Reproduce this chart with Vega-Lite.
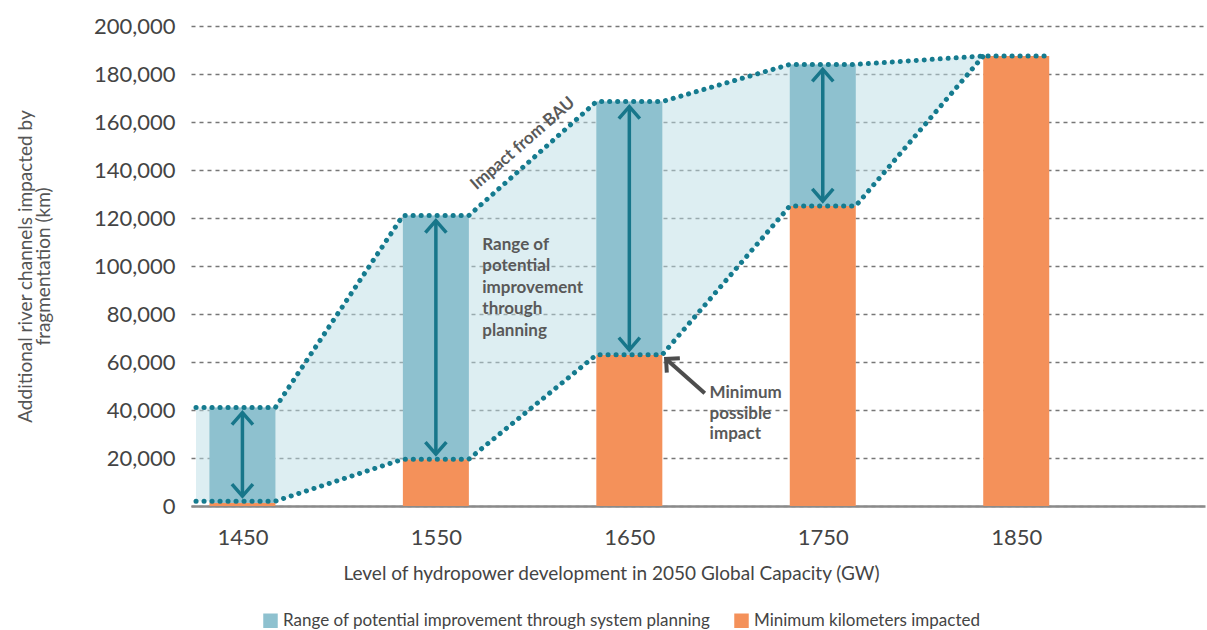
{
  "$schema": "https://vega.github.io/schema/vega-lite/v6.json",
  "width": 1014,
  "height": 480,
  "autosize": {"type": "none"},
  "padding": {"left": 191, "top": 26, "right": 2, "bottom": 124},
  "background": "white",
  "config": {
    "view": {"stroke": null},
    "font": "Lato",
    "axis": {"labelFont": "Lato", "titleFont": "Lato"},
    "legend": {"labelFont": "Lato"}
  },
  "datasets": {
    "bars": [
      {"gw": 1450, "series": "Minimum kilometers impacted", "lo": 0, "hi": 1200},
      {"gw": 1450, "series": "Range of potential improvement through system planning", "lo": 1200, "hi": 41000},
      {"gw": 1550, "series": "Minimum kilometers impacted", "lo": 0, "hi": 19500},
      {"gw": 1550, "series": "Range of potential improvement through system planning", "lo": 19500, "hi": 121000},
      {"gw": 1650, "series": "Minimum kilometers impacted", "lo": 0, "hi": 63000},
      {"gw": 1650, "series": "Range of potential improvement through system planning", "lo": 63000, "hi": 168500},
      {"gw": 1750, "series": "Minimum kilometers impacted", "lo": 0, "hi": 125000},
      {"gw": 1750, "series": "Range of potential improvement through system planning", "lo": 125000, "hi": 184000},
      {"gw": 1850, "series": "Minimum kilometers impacted", "lo": 0, "hi": 187500}
    ],
    "envelope": [
      {"gw": 1426, "upper": 41000, "lower": 2000},
      {"gw": 1467, "upper": 41000, "lower": 2000},
      {"gw": 1533, "upper": 121000, "lower": 19500},
      {"gw": 1567, "upper": 121000, "lower": 19500},
      {"gw": 1633, "upper": 168500, "lower": 63000},
      {"gw": 1667, "upper": 168500, "lower": 63000},
      {"gw": 1733, "upper": 184000, "lower": 125000},
      {"gw": 1767, "upper": 184000, "lower": 125000},
      {"gw": 1833, "upper": 187500, "lower": 187500},
      {"gw": 1867, "upper": 187500, "lower": null}
    ],
    "arrows": [
      {"gw": 1450, "lo": 2000, "hi": 41000},
      {"gw": 1550, "lo": 19500, "hi": 121000},
      {"gw": 1650, "lo": 63000, "hi": 168500},
      {"gw": 1750, "lo": 125000, "hi": 184000}
    ],
    "pointer": [
      {"gw_from": 1689, "km_from": 47000, "gw_to": 1669, "km_to": 61300}
    ]
  },
  "layer": [
    {
      "data": {"name": "envelope"},
      "transform": [{"filter": "isValid(datum.lower)"}],
      "mark": {"type": "area", "color": "#bcdde6", "fillOpacity": 0.5},
      "encoding": {
        "x": {
          "field": "gw", "type": "quantitative",
          "scale": {"domain": [1426, 1945], "nice": false, "zero": false},
          "axis": {
            "values": [1450, 1550, 1650, 1750, 1850],
            "format": "d",
            "title": "Level of hydropower development in 2050 Global Capacity (GW)",
            "grid": false, "ticks": false,
            "domainColor": "#8a8a8a", "domainWidth": 2.5,
            "labelFontSize": 22, "labelColor": "#444", "labelPadding": 21,
            "titleFontSize": 19, "titleColor": "#444", "titleFontWeight": "normal",
            "titlePadding": 16, "titleX": 420, "titleAlign": "center"
          }
        },
        "y": {
          "field": "upper", "type": "quantitative",
          "scale": {"domain": [0, 200000], "nice": false},
          "axis": {
            "values": [0, 20000, 40000, 60000, 80000, 100000, 120000, 140000, 160000, 180000, 200000],
            "format": ",.0f",
            "title": ["Additional river channels impacted by", "fragmentation (km)"],
            "grid": true, "gridDash": [4, 4], "gridColor": "#777", "gridWidth": 1.5,
            "domain": false, "ticks": false,
            "labelFontSize": 22, "labelColor": "#444", "labelPadding": 16,
            "titleFontSize": 19, "titleColor": "#555", "titleFontWeight": "normal",
            "titlePadding": 40, "titleLineHeight": 18
          }
        },
        "y2": {"field": "lower"}
      }
    },
    {
      "data": {"name": "bars"},
      "mark": {"type": "bar", "width": 66},
      "encoding": {
        "x": {"field": "gw", "type": "quantitative"},
        "y": {"field": "hi", "type": "quantitative"},
        "y2": {"field": "lo"},
        "color": {
          "field": "series", "type": "nominal",
          "scale": {
            "domain": ["Range of potential improvement through system planning", "Minimum kilometers impacted"],
            "range": ["#8ec1cf", "#f4915a"]
          },
          "legend": {
            "orient": "none", "legendX": 71, "legendY": 586,
            "direction": "horizontal", "title": null,
            "symbolType": "square", "symbolSize": 210, "symbolStrokeWidth": 0,
            "labelFontSize": 17, "labelColor": "#444", "columnPadding": 22, "labelLimit": 600
          }
        }
      }
    },
    {
      "data": {"name": "envelope"},
      "mark": {"type": "line", "color": "#157b8f", "strokeWidth": 5, "strokeCap": "round", "strokeDash": [0.1, 7.9]},
      "encoding": {
        "x": {"field": "gw", "type": "quantitative"},
        "y": {"field": "upper", "type": "quantitative"}
      }
    },
    {
      "data": {"name": "envelope"},
      "transform": [{"filter": "isValid(datum.lower)"}],
      "mark": {"type": "line", "color": "#157b8f", "strokeWidth": 5, "strokeCap": "round", "strokeDash": [0.1, 7.9]},
      "encoding": {
        "x": {"field": "gw", "type": "quantitative"},
        "y": {"field": "lower", "type": "quantitative"}
      }
    },
    {
      "data": {"name": "arrows"},
      "mark": {"type": "rule", "color": "#17768a", "strokeWidth": 3.5, "yOffset": -5, "y2Offset": 5},
      "encoding": {
        "x": {"field": "gw", "type": "quantitative"},
        "y": {"field": "lo", "type": "quantitative"},
        "y2": {"field": "hi"}
      }
    },
    {
      "data": {"name": "arrows"},
      "mark": {"type": "point", "shape": "M-1,1.15L0,0L1,1.15", "filled": false, "stroke": "#17768a", "strokeWidth": 3.5, "size": 441, "opacity": 1, "yOffset": 5},
      "encoding": {
        "x": {"field": "gw", "type": "quantitative"},
        "y": {"field": "hi", "type": "quantitative"}
      }
    },
    {
      "data": {"name": "arrows"},
      "mark": {"type": "point", "shape": "M-1,-1.15L0,0L1,-1.15", "filled": false, "stroke": "#17768a", "strokeWidth": 3.5, "size": 441, "opacity": 1, "yOffset": -5},
      "encoding": {
        "x": {"field": "gw", "type": "quantitative"},
        "y": {"field": "lo", "type": "quantitative"}
      }
    },
    {
      "data": {"name": "pointer"},
      "mark": {"type": "rule", "color": "#4d4d4d", "strokeWidth": 4},
      "encoding": {
        "x": {"field": "gw_from", "type": "quantitative"},
        "y": {"field": "km_from", "type": "quantitative"},
        "x2": {"field": "gw_to"},
        "y2": {"field": "km_to"}
      }
    },
    {
      "data": {"name": "pointer"},
      "mark": {"type": "point", "shape": "M-1,1L0,0L1,1", "filled": false, "stroke": "#4d4d4d", "strokeWidth": 4, "size": 380, "opacity": 1, "angle": 312},
      "encoding": {
        "x": {"field": "gw_to", "type": "quantitative"},
        "y": {"field": "km_to", "type": "quantitative"}
      }
    },
    {
      "data": {"values": [{"gw": 1595, "km": 151000, "label": "Impact from BAU"}]},
      "mark": {"type": "text", "font": "Lato", "fontSize": 17, "fontWeight": "bold", "color": "#595959", "angle": 319, "align": "center", "baseline": "middle"},
      "encoding": {
        "x": {"field": "gw", "type": "quantitative"},
        "y": {"field": "km", "type": "quantitative"},
        "text": {"field": "label"}
      }
    },
    {
      "data": {"values": [{"gw": 1574, "km": 106700, "label": "Range of\npotential\nimprovement\nthrough\nplanning"}]},
      "mark": {"type": "text", "font": "Lato", "fontSize": 17, "fontWeight": "bold", "color": "#595959", "align": "left", "baseline": "alphabetic", "lineBreak": "\n", "lineHeight": 21.5},
      "encoding": {
        "x": {"field": "gw", "type": "quantitative"},
        "y": {"field": "km", "type": "quantitative"},
        "text": {"field": "label"}
      }
    },
    {
      "data": {"values": [{"gw": 1691.5, "km": 45000, "label": "Minimum\npossible\nimpact"}]},
      "mark": {"type": "text", "font": "Lato", "fontSize": 17, "fontWeight": "bold", "color": "#595959", "align": "left", "baseline": "alphabetic", "lineBreak": "\n", "lineHeight": 20.5},
      "encoding": {
        "x": {"field": "gw", "type": "quantitative"},
        "y": {"field": "km", "type": "quantitative"},
        "text": {"field": "label"}
      }
    }
  ]
}
